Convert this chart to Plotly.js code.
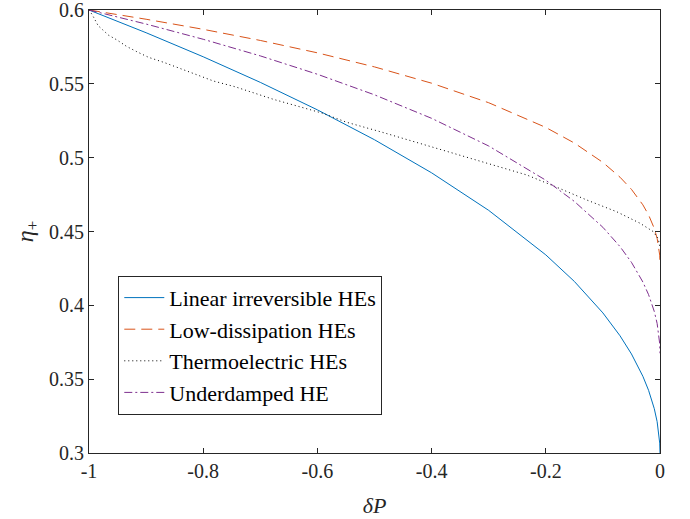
<!DOCTYPE html>
<html>
<head>
<meta charset="utf-8">
<script src="https://cdn.plot.ly/plotly-3.0.1.min.js"></script>
<style>html,body{margin:0;padding:0;background:#fff;}#chart{width:690px;height:519px;}</style>
</head>
<body>
<div id="chart"></div>
<script>
// dP values (shared by the three analytic-looking curves)
const dP = [-1, -0.9, -0.8, -0.7, -0.6, -0.5, -0.4, -0.3, -0.2, -0.15, -0.1, -0.07, -0.05, -0.03, -0.02, -0.01, -0.005, -0.002, -0.0005, 0];
const etaLinear = [0.6, 0.584605, 0.568328, 0.550998, 0.532379, 0.512132, 0.489737, 0.464317, 0.434164, 0.416189, 0.394868, 0.379373, 0.367082, 0.351962, 0.342426, 0.33, 0.321213, 0.313416, 0.306708, 0.3];
const etaLowDiss = [0.6, 0.593746, 0.586917, 0.579389, 0.570987, 0.561466, 0.550428, 0.53721, 0.520476, 0.509918, 0.496773, 0.486766, 0.478544, 0.468058, 0.461226, 0.452055, 0.445377, 0.439318, 0.433991, 0.428571];
const etaUnderdamped = [0.6, 0.590484, 0.58018, 0.568921, 0.556488, 0.54256, 0.526644, 0.507907, 0.484717, 0.470376, 0.452847, 0.439745, 0.42913, 0.415795, 0.407226, 0.395866, 0.387705, 0.38037, 0.37399, 0.367544];
// thermoelectric curve
const dPThermo = [-1, -0.994, -0.984, -0.966, -0.951, -0.934, -0.9165, -0.896, -0.868, -0.841, -0.811, -0.782, -0.744, -0.7035, -0.677, -0.59, -0.549, -0.49, -0.42, -0.3385, -0.292, -0.2335, -0.181, -0.128, -0.076, -0.035, -0.0117, -0.003, 0];
const etaThermo = [0.6, 0.5966, 0.5894, 0.583, 0.5797, 0.5753, 0.5718, 0.568, 0.5644, 0.5605, 0.556, 0.5519, 0.548, 0.5429, 0.5395, 0.530, 0.5240, 0.5176, 0.5097, 0.5005, 0.4950, 0.4883, 0.4800, 0.4713, 0.4634, 0.4556, 0.4499, 0.4450, 0.4390];
const seriesNames = ["Linear irreversible HEs", "Low-dissipation HEs", "Thermoelectric HEs", "Underdamped HE"];
const xTickVals = [-1, -0.8, -0.6, -0.4, -0.2, 0];
const xTickText = ["-1", "-0.8", "-0.6", "-0.4", "-0.2", "0"];
const yTickVals = [0.3, 0.35, 0.4, 0.45, 0.5, 0.55, 0.6];
const yTickText = ["0.3", "0.35", "0.4", "0.45", "0.5", "0.55", "0.6"];

const SERIF = "'Liberation Serif', 'DejaVu Serif', 'Times New Roman', Times, serif";

const traces = [
  {x: dP, y: etaLinear, name: seriesNames[0], mode: "lines", line: {color: "#0072BD", width: 1}},
  {x: dP, y: etaLowDiss, name: seriesNames[1], mode: "lines", line: {color: "#D95319", width: 1, dash: "11px,6px"}},
  {x: dPThermo, y: etaThermo, name: seriesNames[2], mode: "lines", line: {color: "#000000", width: 1, dash: "1px,3px"}},
  {x: dP, y: etaUnderdamped, name: seriesNames[3], mode: "lines", line: {color: "#7E2F8E", width: 1, dash: "8px,3px,2px,3px"}}
];

const axisCommon = {
  showgrid: false, zeroline: false, showline: true, mirror: "ticks",
  linecolor: "#262626", linewidth: 1, ticks: "inside", ticklen: 5, tickcolor: "#262626",
  ticklabeloverflow: "allow",
  tickfont: {family: SERIF, size: 20, color: "#262626"}
};

const layout = {
  width: 690, height: 519,
  margin: {l: 89, r: 30, t: 10, b: 66},
  paper_bgcolor: "#ffffff", plot_bgcolor: "#ffffff",
  font: {family: SERIF},
  showlegend: true,
  xaxis: Object.assign({}, axisCommon, {
    range: [-1.0000001, 0.0000001], tickvals: xTickVals, ticktext: xTickText,
    title: {text: "<i>δP</i>", font: {family: SERIF, size: 22, color: "#262626"}, standoff: 16}
  }),
  yaxis: Object.assign({}, axisCommon, {
    range: [0.2999999, 0.6000001], tickvals: yTickVals, ticktext: yTickText,
    title: {text: "<i>η</i><sub>+</sub>", font: {family: SERIF, size: 24, color: "#262626"}, standoff: 8}
  }),
  legend: {
    x: 0.0513, y: 0.400, xanchor: "left", yanchor: "top",
    bgcolor: "#ffffff", bordercolor: "#262626", borderwidth: 1,
    font: {family: SERIF, size: 22, color: "#000000"},
    tracegroupgap: 0, itemwidth: 40
  }
};

Plotly.newPlot("chart", traces, layout, {displayModeBar: false, staticPlot: true});
</script>
</body>
</html>
